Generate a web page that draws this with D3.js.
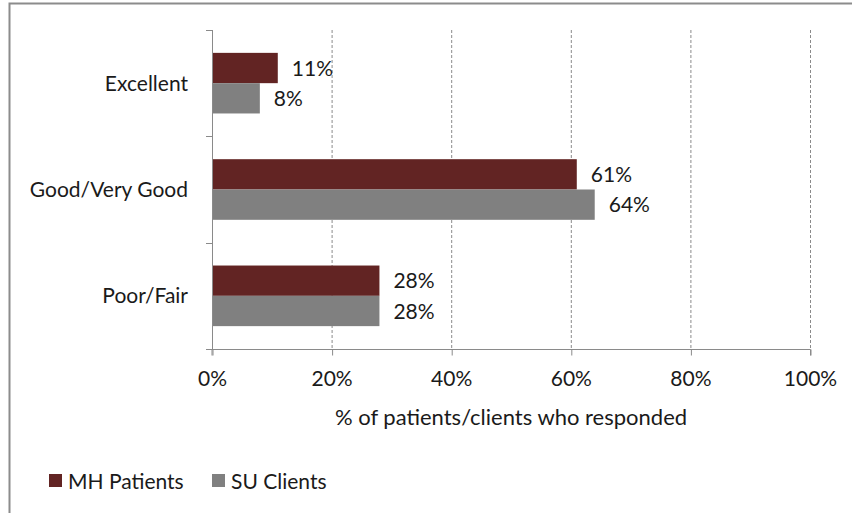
<!DOCTYPE html>
<html><head><meta charset="utf-8">
<script src="https://cdn.jsdelivr.net/npm/d3@7"></script>
<style>body{margin:0;background:#fff}svg{display:block}text{font-family:Lato,"Open Sans",sans-serif;fill:#1a1a1a}</style>
</head><body>
<svg id="c" width="852" height="513"></svg>
<script>
const categories = ["Excellent", "Good/Very Good", "Poor/Fair"];
const seriesNames = ["MH Patients", "SU Clients"];
const mhValues = [11, 61, 28];
const suValues = [8, 64, 28];
const xTicks = [0, 20, 40, 60, 80, 100];
const xTitle = "% of patients/clients who responded";
const colors = ["#622423", "#808080"];

const FS = 21;
const svg = d3.select("#c");
// frame
svg.append("rect").attr("x", 9.5).attr("y", 3.5).attr("width", 900).attr("height", 600)
  .attr("fill", "none").attr("stroke", "#8c8c8c").attr("stroke-width", 2);

const L = 212, R = 810, T = 30, B = 349;
const x = d3.scaleLinear().domain([0, 100]).range([L, R]);
const y = d3.scaleBand().domain(categories).range([T, B]).paddingInner(0.43).paddingOuter(0.215);
const y1 = d3.scaleBand().domain(seriesNames).range([0, y.bandwidth()]);

// grid
svg.append("g").selectAll("line").data(xTicks.slice(1)).join("line")
  .attr("x1", d => x(d) + 0.5).attr("x2", d => x(d) + 0.5).attr("y1", T).attr("y2", B)
  .attr("stroke", "#8a8a8a").attr("stroke-dasharray", "3,2").attr("stroke-width", 1);

// bars
const data = categories.map((c, i) => ({c, vals: [mhValues[i], suValues[i]]}));
const g = svg.append("g");
data.forEach(d => {
  d.vals.forEach((v, j) => {
    g.append("rect").attr("x", x(0)).attr("y", y(d.c) + y1(seriesNames[j]))
      .attr("width", x(v) - x(0)).attr("height", y1.bandwidth()).attr("fill", colors[j]);
    g.append("text").attr("x", x(v) + 14).attr("y", y(d.c) + y1(seriesNames[j]) + y1.bandwidth() / 2)
      .attr("dy", "0.36em").attr("font-size", FS).text(v + "%");
  });
});

// x axis
const xa = svg.append("g").attr("transform", `translate(0,${B + 0.5})`)
  .call(d3.axisBottom(x).tickValues(xTicks).tickFormat(d => d + "%").tickSize(6).tickPadding(16));
xa.select(".domain").attr("stroke", "#8a8a8a").attr("d", `M${L},6V0H${R + 0.5}V6`);
xa.selectAll(".tick line").attr("stroke", "#8a8a8a").attr("transform", "translate(0.5,0)");
xa.selectAll(".tick text").attr("font-size", FS).attr("fill", "#1a1a1a").attr("font-family", "Lato,'Open Sans',sans-serif");

// y axis
const yTickPos = d3.range(categories.length + 1).map(i => T + i * (B - T) / categories.length);
svg.append("line").attr("x1", L + 0.5).attr("x2", L + 0.5).attr("y1", T).attr("y2", B)
  .attr("stroke", "#8a8a8a");
svg.append("g").selectAll("line").data(yTickPos).join("line")
  .attr("x1", L - 6).attr("x2", L).attr("y1", d => Math.round(d) + 0.5).attr("y2", d => Math.round(d) + 0.5)
  .attr("stroke", "#8a8a8a");
svg.append("g").selectAll("text").data(categories).join("text")
  .attr("x", L - 24).attr("y", d => y(d) + y.bandwidth() / 2).attr("dy", "0.36em")
  .attr("text-anchor", "end").attr("font-size", FS).text(d => d);

// x title
svg.append("text").attr("x", (L + R) / 2).attr("y", 417).attr("dy", "0.36em")
  .attr("text-anchor", "middle").attr("font-size", 22).text(xTitle);

// legend
const legX = [49, 212];
seriesNames.forEach((s, i) => {
  svg.append("rect").attr("x", legX[i]).attr("y", 474).attr("width", 13).attr("height", 13).attr("fill", colors[i]);
  svg.append("text").attr("x", legX[i] + 19).attr("y", 481).attr("dy", "0.36em").attr("font-size", FS).text(s);
});
</script>
</body></html>
